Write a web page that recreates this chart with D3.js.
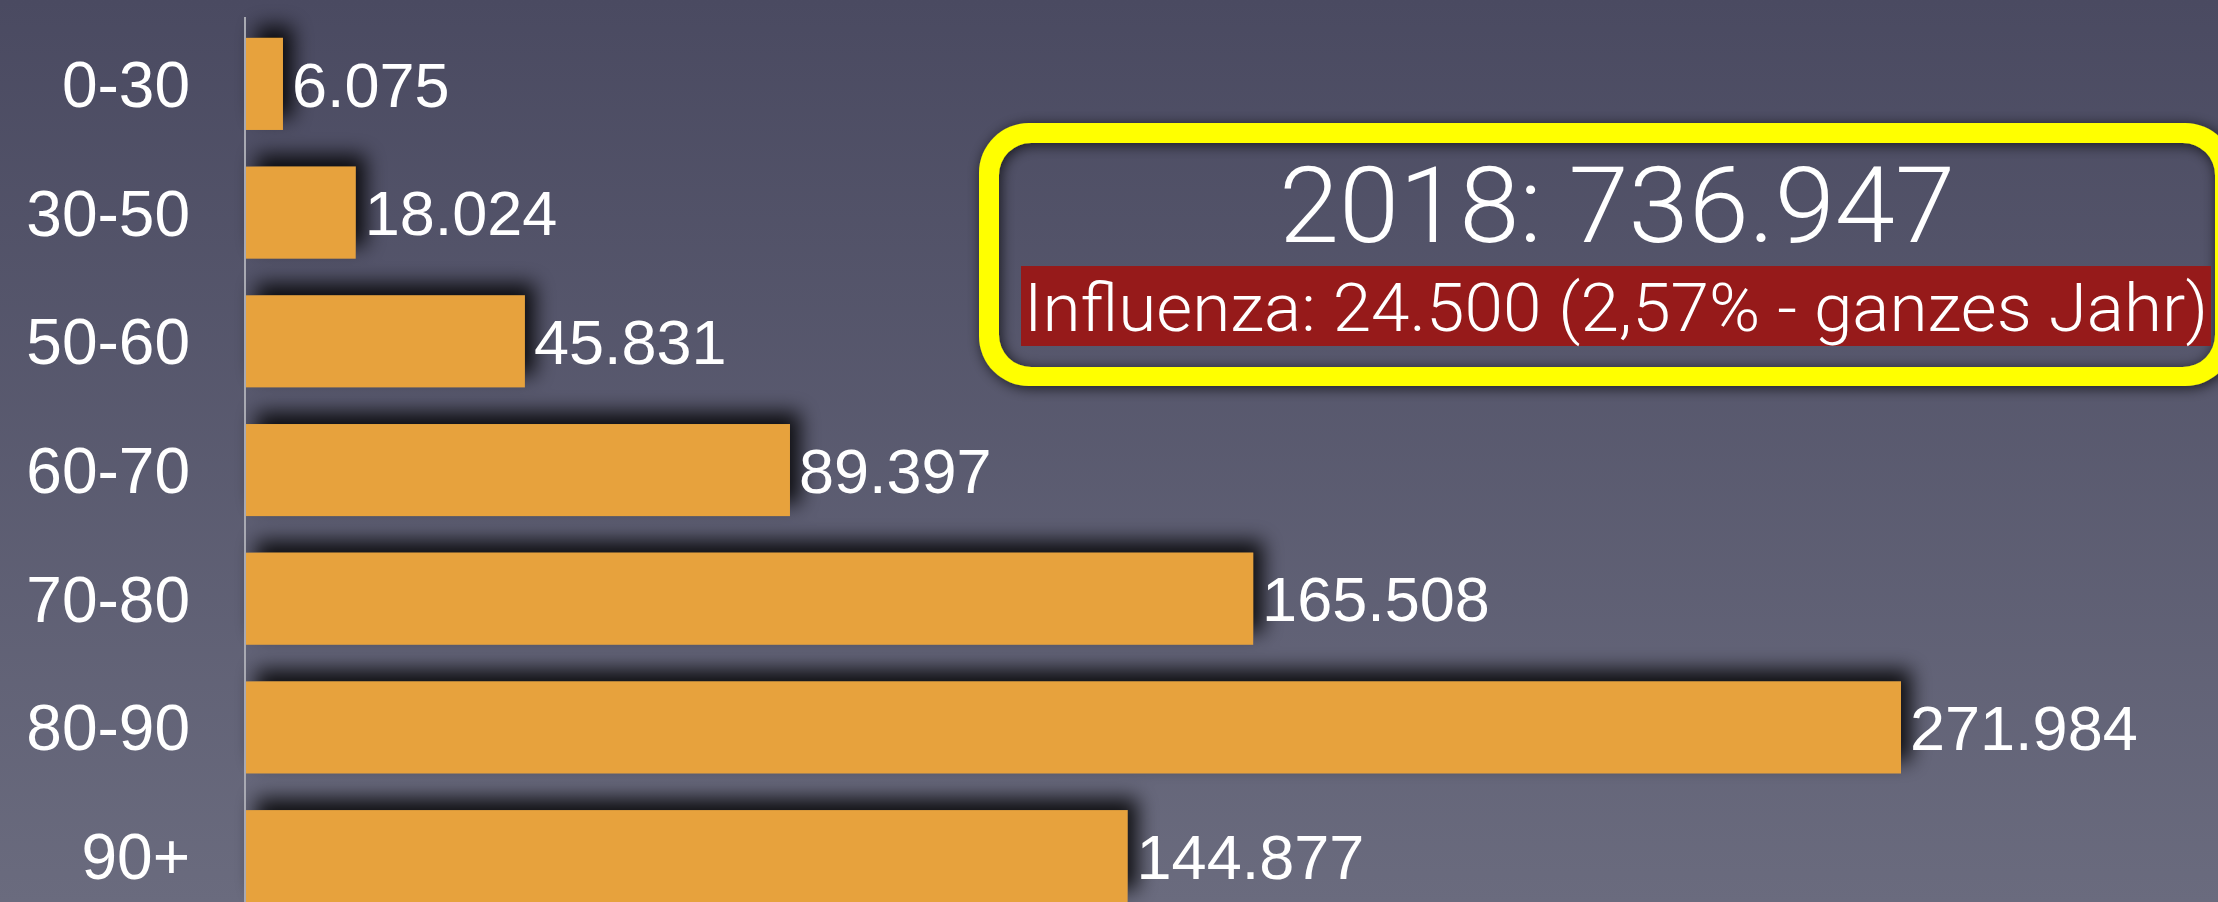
<!DOCTYPE html>
<html>
<head>
<meta charset="utf-8">
<script src="https://cdn.jsdelivr.net/npm/d3@7"></script>
<style>
  html, body { margin: 0; padding: 0; overflow: hidden; background: #55566b; }
  svg { display: block; }
</style>
</head>
<body>
<div id="canvas"></div>
<script>
// data
const ageGroups = ["0-30", "30-50", "50-60", "60-70", "70-80", "80-90", "90+"];
const deaths = [6075, 18024, 45831, 89397, 165508, 271984, 144877];
const valueLabels = ["6.075", "18.024", "45.831", "89.397", "165.508", "271.984", "144.877"];
const totalLabel = "2018: 736.947";
const noteLabel = "Influenza: 24.500 (2,57% - ganzes Jahr)";

const width = 2218, height = 902;
const fontFamily = "'Liberation Sans', Helvetica, Arial, sans-serif";

let svg = d3.select("#canvas")
  .append("svg")
  .attr("width", width)
  .attr("height", height);

let defs = svg.append("defs");

// background gradient
let bg = defs.append("linearGradient")
  .attr("id", "bg")
  .attr("x1", 0).attr("y1", 0)
  .attr("x2", 0).attr("y2", 1);
bg.append("stop").attr("offset", "0%").attr("stop-color", "#4a4a61");
bg.append("stop").attr("offset", "100%").attr("stop-color", "#6a6b7e");

// shadow thrown up and to the right by the bars
defs.append("filter")
  .attr("id", "barShadow")
  .attr("x", "-10%").attr("y", "-50%")
  .attr("width", "130%").attr("height", "200%")
  .append("feDropShadow")
  .attr("dx", 10).attr("dy", -12)
  .attr("stdDeviation", 10)
  .attr("flood-color", "#000")
  .attr("flood-opacity", 0.85);

defs.append("filter")
  .attr("id", "boxShadow")
  .attr("x", "-10%").attr("y", "-20%")
  .attr("width", "120%").attr("height", "140%")
  .append("feDropShadow")
  .attr("dx", 2).attr("dy", 2)
  .attr("stdDeviation", 7)
  .attr("flood-color", "#000")
  .attr("flood-opacity", 0.7);

svg.append("rect")
  .attr("width", width)
  .attr("height", height)
  .attr("fill", "url(#bg)");

// scales
let x = d3.scaleLinear()
  .domain([0, d3.max(deaths)])
  .range([246, 1901]);

let y = d3.scaleBand()
  .domain(ageGroups)
  .range([19.6, 920.5])
  .paddingInner(0.285)
  .paddingOuter(0.1425);

let rows = ageGroups.map((g, i) => ({ group: g, value: deaths[i], label: valueLabels[i] }));

// bars
svg.append("g")
  .attr("filter", "url(#barShadow)")
  .selectAll("rect")
  .data(rows)
  .enter()
  .append("rect")
  .attr("x", x(0))
  .attr("y", d => y(d.group))
  .attr("width", d => x(d.value) - x(0))
  .attr("height", y.bandwidth())
  .attr("fill", "#e7a23d");

// vertical axis line with the age group labels
let yAxis = svg.append("g")
  .attr("transform", "translate(" + x(0) + ",0)")
  .call(d3.axisLeft(y).tickSize(0).tickPadding(56));
yAxis.select(".domain").remove();
yAxis.append("line")
  .attr("x1", -1).attr("x2", -1)
  .attr("y1", 17).attr("y2", height)
  .attr("stroke", "#a8a9b2")
  .attr("stroke-width", 2);
yAxis.selectAll(".tick text")
  .attr("fill", "#fff")
  .attr("font-family", fontFamily)
  .attr("font-size", 64)
  .attr("dy", "0.36em");

// value labels
svg.append("g")
  .selectAll("text")
  .data(rows)
  .enter()
  .append("text")
  .attr("x", d => x(d.value) + 9)
  .attr("y", d => y(d.group) + y.bandwidth() / 2)
  .attr("dy", "0.36em")
  .attr("fill", "#fff")
  .attr("font-family", fontFamily)
  .attr("font-size", 63)
  .text(d => d.label);

// yellow framed box with the total
let frame = d3.path();
function roundRect(p, x0, y0, w, h, r) {
  p.moveTo(x0 + r, y0);
  p.lineTo(x0 + w - r, y0);
  p.arcTo(x0 + w, y0, x0 + w, y0 + r, r);
  p.lineTo(x0 + w, y0 + h - r);
  p.arcTo(x0 + w, y0 + h, x0 + w - r, y0 + h, r);
  p.lineTo(x0 + r, y0 + h);
  p.arcTo(x0, y0 + h, x0, y0 + h - r, r);
  p.lineTo(x0, y0 + r);
  p.arcTo(x0, y0, x0 + r, y0, r);
  p.closePath();
}
roundRect(frame, 979, 123, 1256, 263, 50);
roundRect(frame, 999, 143, 1216, 224, 32);

svg.append("path")
  .attr("d", frame.toString())
  .attr("fill", "#ffff00")
  .attr("fill-rule", "evenodd")
  .attr("filter", "url(#boxShadow)");

svg.append("text")
  .attr("x", 1279)
  .attr("y", 242)
  .attr("fill", "#fff")
  .attr("font-family", "Roboto, " + fontFamily)
  .attr("font-weight", 300)
  .attr("font-size", 105)
  .attr("textLength", 676)
  .attr("lengthAdjust", "spacingAndGlyphs")
  .text(totalLabel);

svg.append("rect")
  .attr("x", 1021)
  .attr("y", 266)
  .attr("width", 1190)
  .attr("height", 80)
  .attr("fill", "#961a1a");

svg.append("text")
  .attr("x", 1024)
  .attr("y", 331)
  .attr("fill", "#fff")
  .attr("font-family", "Roboto, " + fontFamily)
  .attr("font-weight", 300)
  .attr("font-size", 67)
  .attr("textLength", 1184)
  .attr("lengthAdjust", "spacingAndGlyphs")
  .text(noteLabel);
</script>
</body>
</html>
